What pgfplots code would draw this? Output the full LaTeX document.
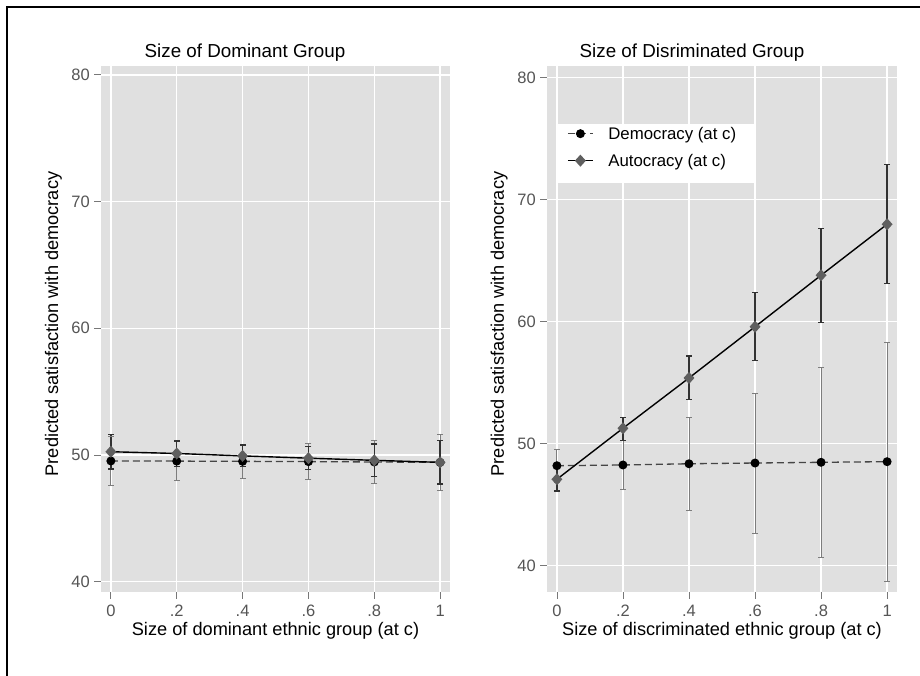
\documentclass[border=0pt]{standalone}
\usepackage{fontspec}
\setmainfont{Liberation Sans}
\usepackage{pgfplots}
\pgfplotsset{compat=1.18}
\usepackage{pgfplotstable}

\definecolor{bg}{RGB}{224,224,224}
\definecolor{tickgray}{RGB}{85,85,85}
\definecolor{tickmk}{RGB}{120,120,120}
\definecolor{cidem}{RGB}{125,125,125}
\definecolor{ciaut}{RGB}{50,50,50}
\definecolor{diam}{RGB}{95,95,95}
\definecolor{dashgray}{RGB}{70,70,70}

% Size of dominant group
\pgfplotstableread{
x   demy  demlo demhi auty  autlo authi
0   49.53 47.63 51.43 50.26 48.90 51.60
0.2 49.52 47.97 51.08 50.12 49.10 51.10
0.4 49.50 48.18 50.82 49.93 49.07 50.79
0.6 49.48 48.06 50.88 49.75 48.83 50.67
0.8 49.45 47.76 51.15 49.58 48.30 50.86
1   49.42 47.24 51.60 49.42 47.72 51.12
}\dom

% Size of discriminated group
\pgfplotstableread{
x   demy  demlo demhi auty  autlo authi
0   48.18 46.81 49.55 47.07 46.11 48.03
0.2 48.24 46.25 50.23 51.25 50.23 52.11
0.4 48.34 44.52 52.10 55.37 53.62 57.17
0.6 48.40 42.62 54.14 59.57 56.79 62.35
0.8 48.46 40.68 56.20 63.79 59.93 67.61
1   48.51 38.70 58.28 67.97 63.10 72.85
}\dis

\newcommand{\tickfont}{\fontsize{16.5}{18}\selectfont}
\newcommand{\labfont}{\fontsize{18.2}{21}\selectfont}
\newcommand{\legfont}{\fontsize{16.8}{19}\selectfont}
\newcommand{\titfont}{\fontsize{18.8}{21}\selectfont}

\pgfplotsset{
  stata/.style={
    scale only axis,
    height=525.5pt,
    xmin=-0.03, xmax=1.03,
    xtick={0,0.2,0.4,0.6,0.8,1},
    xticklabels={{\tickfont 0},{\tickfont .2},{\tickfont .4},{\tickfont .6},{\tickfont .8},{\tickfont 1}},
    ytick={40,50,60,70,80},
    yticklabels={{\tickfont 40},{\tickfont 50},{\tickfont 60},{\tickfont 70},{\tickfont 80}},
    grid=major,
    major grid style={white, line width=1.3pt},
    axis background/.style={fill=bg},
    axis line style={draw=none},
    tick align=outside,
    xtick pos=left, ytick pos=left,
    major tick length=7pt,
    tick style={draw=tickmk, line width=0.8pt},
    /pgf/number format/assume math mode=true,
    tick label style={font=\tickfont, text=tickgray, inner sep=0pt},
    yticklabel style={xshift=-4pt},
    xticklabel style={yshift=-6pt},
    label style={font=\labfont},
    ylabel style={anchor=base, inner sep=0pt},
    xlabel style={at={(axis description cs:0.5,-0.0832)}, anchor=base, inner sep=0pt},
    ylabel={\labfont Predicted satisfaction with democracy},
  },
  ciD/.style={draw=cidem, line width=0.9pt, only marks, mark=none, forget plot,
    error bars/.cd, y dir=both, y explicit, error mark=none,
    error bar style={draw=cidem, line width=0.9pt, solid}},
  ciA/.style={draw=ciaut, line width=1.3pt, only marks, mark=none, forget plot,
    error bars/.cd, y dir=both, y explicit, error mark=none,
    error bar style={draw=ciaut, line width=1.3pt, solid}},
  capD/.style={only marks, forget plot, mark=-, mark size=3pt,
    mark options={draw=cidem, line width=0.9pt, solid}},
  capA/.style={only marks, forget plot, mark=-, mark size=3pt,
    mark options={draw=ciaut, line width=1.3pt, solid}},
  lineD/.style={dashgray, line width=1.3pt, dash pattern=on 7pt off 4pt,
    mark=*, mark size=3.8pt, mark options={solid, fill=black, draw=black}},
  lineA/.style={black, line width=1.4pt,
    mark=diamond*, mark size=5pt, mark options={solid, fill=diam, draw=diam, xscale=1.2}},
}

\begin{document}
\begin{tikzpicture}
\useasboundingbox (0pt,0pt) rectangle (920pt,676pt);
\draw[black, line width=2pt] (7pt,-2pt) -- (7pt,669pt) -- (922pt,669pt);

\begin{axis}[stata,
  at={(101pt,84pt)}, anchor=south west,
  width=349pt,
  ymin=39.19, ymax=80.66,
  ylabel style={at={(axis description cs:-0.1232,0.51)}},
  xlabel={\labfont Size of dominant ethnic group (at c)},
]
\addplot[ciD] table[x=x, y=demy,
  y error plus expr=\thisrow{demhi}-\thisrow{demy},
  y error minus expr=\thisrow{demy}-\thisrow{demlo}] {\dom};
\addplot[capD] table[x=x, y=demhi] {\dom};
\addplot[capD] table[x=x, y=demlo] {\dom};
\addplot[ciA] table[x=x, y=auty,
  y error plus expr=\thisrow{authi}-\thisrow{auty},
  y error minus expr=\thisrow{auty}-\thisrow{autlo}] {\dom};
\addplot[capA] table[x=x, y=authi] {\dom};
\addplot[capA] table[x=x, y=autlo] {\dom};
\addplot[lineD] table[x=x, y=demy] {\dom};
\addplot[lineA] table[x=x, y=auty] {\dom};
\end{axis}

\begin{axis}[stata,
  at={(547pt,84pt)}, anchor=south west,
  width=350pt,
  ymin=37.83, ymax=80.9,
  ylabel style={at={(axis description cs:-0.1229,0.51)}},
  xlabel={\labfont Size of discriminated ethnic group (at c)},
  legend style={at={(axis description cs:0.0314,0.8906)}, anchor=north west,
    draw=none, fill=white, font=\legfont,
    inner xsep=9pt, inner ysep=2.5pt, row sep=0pt, column sep=14.7pt,
    nodes={inner xsep=0pt, inner ysep=0pt, text height=13pt, text depth=14pt}},
  legend cell align=left,
  legend image code/.code={%
    \draw[mark repeat=2, mark phase=2, #1] plot coordinates {(0pt,6.5pt) (12.5pt,6.5pt) (25pt,6.5pt)};},
]
\addplot[ciD] table[x=x, y=demy,
  y error plus expr=\thisrow{demhi}-\thisrow{demy},
  y error minus expr=\thisrow{demy}-\thisrow{demlo}] {\dis};
\addplot[capD] table[x=x, y=demhi] {\dis};
\addplot[capD] table[x=x, y=demlo] {\dis};
\addplot[ciA] table[x=x, y=auty,
  y error plus expr=\thisrow{authi}-\thisrow{auty},
  y error minus expr=\thisrow{auty}-\thisrow{autlo}] {\dis};
\addplot[capA] table[x=x, y=authi] {\dis};
\addplot[capA] table[x=x, y=autlo] {\dis};
\addplot[lineD] table[x=x, y=demy] {\dis};
\addlegendentry{\legfont Democracy (at c)\hspace*{9.7pt}}
\addplot[lineA] table[x=x, y=auty] {\dis};
\addlegendentry{\legfont Autocracy (at c)}
\end{axis}

\node[anchor=base, font=\titfont, inner sep=0pt] at (245pt,618.7pt) {Size of Dominant Group};
\node[anchor=base, font=\titfont, inner sep=0pt] at (692pt,618.7pt) {Size of Disriminated Group};
\end{tikzpicture}
\end{document}
